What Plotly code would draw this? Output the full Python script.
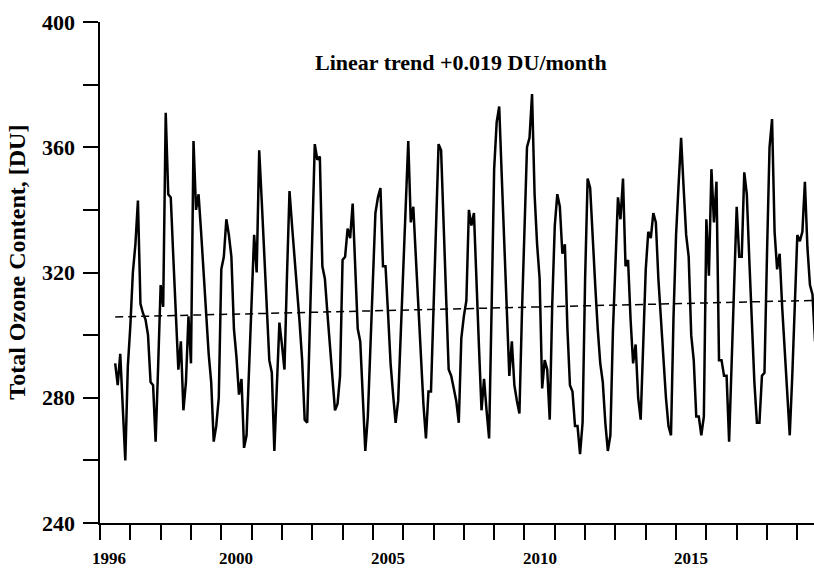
import plotly.graph_objects as go

# Monthly total ozone content [DU], starting July 1996
start_year = 1996
start_month = 7
ozone_du = [
    # 1996 Jul-Dec
    291, 284, 294, 277, 260, 290,
    # 1997
    303, 320, 329, 343, 310, 307, 305, 300, 285, 284, 266, 290,
    # 1998
    316, 309, 371, 345, 344, 325, 306, 289, 298, 276, 285, 306,
    # 1999
    291, 362, 340, 345, 333, 320, 307, 294, 285, 266, 271, 280,
    # 2000
    321, 325, 337, 332, 325, 302, 293, 281, 286, 264, 268, 289,
    # 2001
    310, 332, 320, 359, 343, 326, 309, 292, 288, 263, 284, 304,
    # 2002
    297, 289, 319, 346, 335, 325, 314, 304, 292, 273, 272, 302,
    # 2003
    331, 361, 356, 357, 322, 318, 307, 296, 287, 276, 278, 287,
    # 2004
    324, 325, 334, 331, 342, 322, 302, 298, 279, 263, 274, 297,
    # 2005
    320, 339, 344, 347, 322, 322, 307, 291, 281, 272, 279, 299,
    # 2006
    320, 341, 362, 336, 341, 325, 309, 292, 278, 267, 282, 282,
    # 2007
    308, 333, 361, 359, 338, 312, 289, 287, 283, 279, 272, 299,
    # 2008
    306, 311, 340, 335, 339, 315, 296, 276, 286, 276, 267, 309,
    # 2009
    353, 368, 373, 351, 329, 307, 287, 298, 284, 279, 275, 307,
    # 2010
    336, 360, 363, 377, 345, 329, 318, 283, 292, 289, 273, 310,
    # 2011
    335, 345, 341, 326, 329, 302, 284, 282, 271, 271, 262, 272,
    # 2012
    318, 350, 347, 330, 316, 302, 291, 285, 272, 263, 268, 301,
    # 2013
    326, 344, 337, 350, 322, 324, 305, 291, 297, 280, 273, 297,
    # 2014
    321, 333, 331, 339, 336, 318, 305, 293, 280, 271, 268, 306,
    # 2015
    332, 348, 363, 347, 332, 325, 300, 292, 274, 274, 268, 274,
    # 2016
    337, 319, 353, 336, 349, 292, 292, 287, 287, 266, 291, 317,
    # 2017
    341, 325, 325, 352, 345, 324, 304, 285, 272, 272, 287, 288,
    # 2018
    326, 360, 369, 333, 321, 326, 309, 294, 280, 268, 287, 309,
    # 2019 Jan-Aug
    332, 330, 333, 349, 328, 316, 313, 298,
]

# Linear trend end points (decimal year, DU)
trend_x = [1996.5, 2019.58]
trend_y = [305.8, 311.1]

# Axis ticks
y_tick_vals = [240, 260, 280, 300, 320, 340, 360, 380, 400]
y_label_vals = [240, 280, 320, 360, 400]
x_tick_vals = list(range(1996, 2020))
x_label_pos = [1996.3, 2000.5, 2005.5, 2010.5, 2015.5]
x_label_text = ["1996", "2000", "2005", "2010", "2015"]

t = [start_year + (start_month - 1 + i) / 12.0 for i in range(len(ozone_du))]

FONT = "Liberation Serif"
Y_MIN, Y_MAX = 240, 400
PLOT_H_PX = 501.0
TICK_LEN_PX = 15

fig = go.Figure()
fig.add_trace(go.Scatter(
    x=t, y=ozone_du, mode="lines",
    line=dict(color="black", width=2.5),
    showlegend=False, hoverinfo="skip",
))
fig.add_trace(go.Scatter(
    x=trend_x, y=trend_y, mode="lines",
    line=dict(color="black", width=1.5, dash="8px,5px"),
    showlegend=False, hoverinfo="skip",
))

# yearly tick marks hanging below the x axis (drawn on the x scale)
tick_centre = Y_MIN - (TICK_LEN_PX / 2.0) * (Y_MAX - Y_MIN) / PLOT_H_PX
fig.add_trace(go.Scatter(
    x=x_tick_vals, y=[tick_centre] * len(x_tick_vals), mode="markers",
    marker=dict(symbol="line-ns", size=TICK_LEN_PX,
                line=dict(color="black", width=2), color="black"),
    cliponaxis=False, showlegend=False, hoverinfo="skip",
))

fig.add_annotation(
    text="<b>Linear trend +0.019 DU/month</b>",
    xref="paper", yref="paper", x=0.5056, y=0.92,
    xanchor="center", yanchor="middle", showarrow=False,
    font=dict(family=FONT, size=22, color="black"),
)

# y-axis title placed as rotated text
fig.add_annotation(
    text="<b>Total Ozone Content, [DU]</b>",
    xref="paper", yref="paper", x=-0.116, y=0.52,
    xanchor="center", yanchor="middle", showarrow=False, textangle=-90,
    font=dict(family=FONT, size=24, color="black"),
)

# y-axis value labels
for yv in y_label_vals:
    fig.add_annotation(
        text="<b>%d</b>" % yv, x=-0.032, xref="paper", y=yv, yref="y",
        xanchor="right", yanchor="middle", showarrow=False,
        font=dict(family=FONT, size=22, color="black"),
    )

# x-axis year labels (centred on the year interval, as in the original)
for xv, txt in zip(x_label_pos, x_label_text):
    fig.add_annotation(
        text="<b>" + txt + "</b>", x=xv, xref="x", y=-0.071, yref="paper",
        xanchor="center", yanchor="middle", showarrow=False,
        font=dict(family=FONT, size=17, color="black"),
    )

fig.update_layout(
    width=814, height=569,
    margin=dict(l=100, r=0, t=22, b=46),
    paper_bgcolor="white", plot_bgcolor="white",
    font=dict(family=FONT, color="black"),
    xaxis=dict(
        range=[1995.999, 2019.55],
        showgrid=False, zeroline=False,
        showline=True, linecolor="black", linewidth=2,
        tickmode="array", tickvals=x_tick_vals,
        ticks="outside", ticklen=15, tickwidth=2, tickcolor="black",
        showticklabels=False,
    ),
    yaxis=dict(
        range=[Y_MIN, Y_MAX],
        showgrid=False, zeroline=False,
        showline=True, linecolor="black", linewidth=2,
        tickmode="array", tickvals=y_tick_vals,
        ticks="outside", ticklen=15, tickwidth=2, tickcolor="black",
        showticklabels=False,
    ),
)

fig.write_html("out.html", config={"displayModeBar": False},
               post_script="document.body.style.margin='0px';")
